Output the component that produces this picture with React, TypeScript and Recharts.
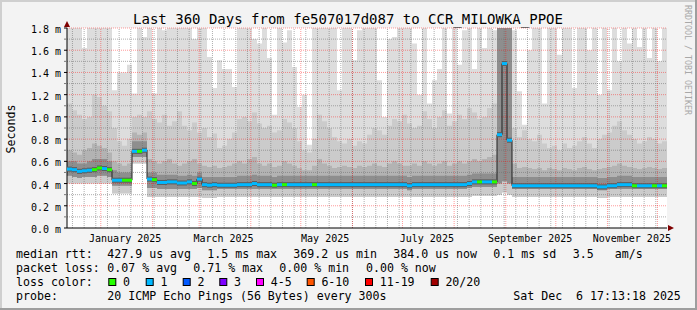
import React from 'react';
import {
  ComposedChart,
  Area,
  Line,
  XAxis,
  YAxis,
  ReferenceLine,
  ReferenceDot,
  CartesianGrid,
} from 'recharts';

// ---------- data (seconds are expressed in milliseconds, axis label "m") ----------
const STEP_DAYS = 3; // one value every 3 days, 120 steps over 360 days

const MEDIAN = [
  0.53, 0.525, 0.51, 0.515, 0.52, 0.525, 0.54, 0.535, 0.525, 0.43,
  0.43, 0.43, 0.43, 0.69, 0.69, 0.70, 0.44, 0.435, 0.41, 0.41,
  0.415, 0.415, 0.405, 0.405, 0.415, 0.40, 0.44, 0.39, 0.385, 0.39,
  0.385, 0.385, 0.385, 0.385, 0.39, 0.39, 0.39, 0.40, 0.39, 0.39,
  0.39, 0.385, 0.39, 0.39, 0.39, 0.39, 0.39, 0.39, 0.39, 0.39,
  0.39, 0.39, 0.39, 0.39, 0.39, 0.39, 0.39, 0.39, 0.39, 0.39,
  0.39, 0.39, 0.39, 0.39, 0.39, 0.39, 0.39, 0.39, 0.38, 0.39,
  0.39, 0.39, 0.39, 0.39, 0.39, 0.39, 0.39, 0.39, 0.39, 0.39,
  0.40, 0.415, 0.415, 0.415, 0.415, 0.415, 0.84, 1.48, 0.79, 0.38,
  0.38, 0.38, 0.38, 0.38, 0.38, 0.38, 0.38, 0.38, 0.38, 0.38,
  0.38, 0.38, 0.38, 0.38, 0.38, 0.38, 0.37, 0.37, 0.38, 0.38,
  0.39, 0.39, 0.39, 0.38, 0.38, 0.38, 0.38, 0.38, 0.38, 0.38,
];

const PING_MIN = [
  0.40, 0.40, 0.40, 0.40, 0.40, 0.40, 0.40, 0.40, 0.40, 0.31,
  0.31, 0.31, 0.31, 0.58, 0.58, 0.58, 0.28, 0.28, 0.28, 0.28,
  0.28, 0.28, 0.28, 0.28, 0.28, 0.28, 0.28, 0.27, 0.27, 0.27,
  0.28, 0.28, 0.28, 0.28, 0.28, 0.28, 0.28, 0.28, 0.28, 0.28,
  0.28, 0.28, 0.28, 0.28, 0.28, 0.28, 0.28, 0.28, 0.28, 0.28,
  0.28, 0.28, 0.28, 0.28, 0.28, 0.28, 0.28, 0.28, 0.28, 0.28,
  0.28, 0.28, 0.28, 0.28, 0.28, 0.28, 0.28, 0.28, 0.28, 0.28,
  0.28, 0.28, 0.28, 0.28, 0.28, 0.28, 0.28, 0.28, 0.28, 0.28,
  0.28, 0.29, 0.29, 0.29, 0.29, 0.29, 0.30, 0.32, 0.30, 0.28,
  0.28, 0.28, 0.28, 0.28, 0.28, 0.28, 0.28, 0.28, 0.28, 0.28,
  0.28, 0.28, 0.28, 0.28, 0.28, 0.28, 0.27, 0.27, 0.28, 0.28,
  0.28, 0.28, 0.28, 0.28, 0.28, 0.28, 0.28, 0.28, 0.28, 0.28,
];

const PING_LOW = [
  0.47, 0.46, 0.45, 0.46, 0.46, 0.46, 0.47, 0.47, 0.46, 0.38,
  0.38, 0.38, 0.38, 0.64, 0.64, 0.64, 0.36, 0.36, 0.35, 0.35,
  0.35, 0.35, 0.35, 0.35, 0.35, 0.35, 0.36, 0.34, 0.34, 0.34,
  0.35, 0.35, 0.35, 0.35, 0.35, 0.35, 0.35, 0.35, 0.35, 0.35,
  0.35, 0.35, 0.35, 0.35, 0.35, 0.35, 0.35, 0.35, 0.35, 0.35,
  0.35, 0.35, 0.35, 0.35, 0.35, 0.35, 0.35, 0.35, 0.35, 0.35,
  0.35, 0.35, 0.35, 0.35, 0.35, 0.35, 0.35, 0.35, 0.34, 0.35,
  0.35, 0.35, 0.35, 0.35, 0.35, 0.35, 0.35, 0.35, 0.35, 0.35,
  0.36, 0.37, 0.37, 0.37, 0.37, 0.37, 0.40, 0.42, 0.40, 0.35,
  0.35, 0.35, 0.35, 0.35, 0.35, 0.35, 0.35, 0.35, 0.35, 0.35,
  0.35, 0.35, 0.35, 0.35, 0.35, 0.35, 0.34, 0.34, 0.35, 0.35,
  0.35, 0.35, 0.35, 0.35, 0.35, 0.35, 0.35, 0.35, 0.35, 0.35,
];

const PING_HIGH = [
  0.60, 0.60, 0.58, 0.58, 0.60, 0.62, 0.62, 0.62, 0.60, 0.52,
  0.50, 0.50, 0.50, 0.78, 0.78, 0.78, 0.50, 0.50, 0.48, 0.48,
  0.48, 0.48, 0.47, 0.47, 0.48, 0.47, 0.50, 0.46, 0.46, 0.46,
  0.46, 0.46, 0.46, 0.46, 0.47, 0.47, 0.47, 0.48, 0.47, 0.47,
  0.47, 0.46, 0.47, 0.47, 0.47, 0.47, 0.47, 0.47, 0.47, 0.47,
  0.47, 0.47, 0.47, 0.47, 0.47, 0.47, 0.47, 0.47, 0.47, 0.47,
  0.47, 0.47, 0.47, 0.47, 0.47, 0.47, 0.47, 0.47, 0.46, 0.47,
  0.47, 0.47, 0.47, 0.47, 0.47, 0.47, 0.47, 0.47, 0.47, 0.47,
  0.48, 0.49, 0.49, 0.49, 0.49, 0.49, 2.0, 2.0, 2.0, 0.46,
  0.46, 0.46, 0.46, 0.46, 0.46, 0.46, 0.46, 0.46, 0.46, 0.46,
  0.46, 0.46, 0.46, 0.46, 0.46, 0.46, 0.45, 0.45, 0.46, 0.46,
  0.47, 0.47, 0.47, 0.46, 0.46, 0.46, 0.46, 0.46, 0.46, 0.46,
];

const PING_MID = [
  0.70, 0.68, 0.66, 0.70, 0.72, 0.76, 0.74, 0.72, 0.68, 0.60,
  0.58, 0.56, 0.58, 0.86, 0.84, 0.86, 0.62, 0.60, 0.58, 0.60,
  0.62, 0.58, 0.56, 0.58, 0.60, 0.62, 0.58, 0.56, 0.55, 0.56,
  0.54, 0.55, 0.56, 0.58, 0.60, 0.58, 0.62, 0.64, 0.58, 0.56,
  0.58, 0.55, 0.56, 0.60, 0.58, 0.56, 0.54, 0.52, 0.52, 0.56,
  0.62, 0.58, 0.56, 0.54, 0.55, 0.56, 0.55, 0.54, 0.56, 0.55,
  0.56, 0.58, 0.56, 0.55, 0.58, 0.60, 0.58, 0.56, 0.56, 0.58,
  0.56, 0.60, 0.58, 0.56, 0.58, 0.60, 0.56, 0.58, 0.60, 0.58,
  0.60, 0.62, 0.60, 0.62, 0.64, 0.66, 2.0, 2.0, 2.0, 0.58,
  0.54, 0.55, 0.54, 0.53, 0.54, 0.52, 0.54, 0.53, 0.52, 0.54,
  0.53, 0.52, 0.54, 0.55, 0.53, 0.52, 0.53, 0.54, 0.55, 0.56,
  0.58, 0.56, 0.55, 0.54, 0.53, 0.54, 0.55, 0.54, 0.53, 0.54,
];

const PING_UPPER = [
  1.12, 1.06, 1.02, 0.98, 1.00, 1.20, 1.18, 1.10, 1.05, 0.90,
  0.78, 0.74, 0.80, 1.00, 1.02, 1.00, 1.05, 0.98, 0.95, 1.02,
  0.92, 0.96, 1.05, 0.92, 0.88, 0.95, 0.86, 0.90, 0.82, 0.85,
  0.72, 0.74, 0.80, 0.86, 0.98, 1.00, 0.96, 1.04, 0.94, 0.90,
  0.92, 0.86, 0.88, 0.98, 0.95, 0.90, 0.78, 0.70, 0.68, 0.80,
  1.02, 0.96, 0.90, 0.82, 0.78, 0.76, 0.80, 0.74, 0.78, 0.76,
  0.84, 0.90, 0.88, 0.84, 0.92, 0.98, 0.96, 1.02, 0.94, 0.90,
  0.92, 1.05, 0.98, 0.90, 1.00, 1.06, 0.92, 0.96, 1.02, 0.98,
  1.08, 1.04, 0.98, 1.00, 1.08, 1.12, 2.0, 2.0, 2.0, 0.90,
  0.82, 0.88, 0.80, 0.78, 0.84, 0.76, 0.72, 0.74, 0.70, 0.76,
  0.72, 0.74, 0.78, 0.82, 0.76, 0.72, 0.80, 0.84, 0.86, 0.92,
  0.96, 0.88, 0.84, 0.80, 0.76, 0.78, 0.82, 0.80, 0.76, 0.78,
];

const PING_MAX = [
  2.0, 2.0, 2.0, 1.62, 2.0, 2.0, 2.0, 2.0, 2.0, 1.24,
  1.40, 1.40, 1.47, 1.21, 2.0, 1.72, 2.0, 1.21, 2.0, 1.78,
  2.0, 2.0, 2.0, 2.0, 2.0, 1.70, 2.0, 2.0, 1.54, 1.26,
  1.51, 1.43, 1.43, 1.27, 2.0, 2.0, 2.0, 1.70, 1.66, 2.0,
  1.53, 1.02, 2.0, 1.67, 1.78, 1.45, 1.09, 1.20, 0.75, 2.0,
  2.0, 2.0, 2.0, 2.0, 1.24, 2.0, 2.0, 1.51, 1.78, 2.0,
  2.0, 2.0, 1.33, 1.00, 1.70, 1.72, 2.0, 2.0, 2.0, 1.66,
  1.20, 2.0, 1.12, 1.33, 1.43, 2.0, 1.03, 2.0, 1.47, 1.78,
  2.0, 1.43, 2.0, 1.62, 2.0, 1.78, 2.0, 2.0, 2.0, 1.78,
  1.23, 0.93, 1.60, 2.0, 2.0, 1.12, 2.0, 2.0, 1.56, 2.0,
  2.0, 1.26, 2.0, 2.0, 1.60, 2.0, 1.20, 2.0, 1.24, 2.0,
  1.50, 2.0, 1.66, 2.0, 1.63, 2.0, 1.53, 2.0, 1.50, 1.80,
];

// steps whose median is drawn with the "0 lost" colour
const ZERO_LOSS_STEPS = [5, 6, 8, 11, 12, 14, 17, 25, 41, 43, 49, 82, 85, 113, 117, 119];

// ---------- axes ----------
const Y_TICKS = [0, 0.1, 0.2, 0.3, 0.4, 0.5, 0.6, 0.7, 0.8, 0.9, 1.0, 1.1, 1.2, 1.3, 1.4, 1.5, 1.6, 1.7, 1.8];
const MONTH_START_DAYS = [20.28, 51.28, 79.28, 110.28, 140.28, 171.28, 201.28, 232.28, 263.28, 293.28, 324.28, 354.28];
const WEEK_START_DAYS = Array.from({ length: 51 }, (_, k) => 3.28 + 7 * k);
const X_LABEL_DAYS = [34.9, 93.9, 154.9, 215.9, 277.9, 338.9];
const X_LABELS = ['January 2025', 'March 2025', 'May 2025', 'July 2025', 'September 2025', 'November 2025'];

const LOSS_LEGEND = [
  { label: '0', color: '#26ff00' },
  { label: '1', color: '#00b8ff' },
  { label: '2', color: '#0059ff' },
  { label: '3', color: '#7e00ff' },
  { label: '4-5', color: '#ff00ff' },
  { label: '6-10', color: '#ff5500' },
  { label: '11-19', color: '#ff0000' },
  { label: '20/20', color: '#a10000' },
];

// ---------- layout ----------
const W = 697;
const H = 310;
const PLOT_LEFT = 67;
const PLOT_W = 600;
const PLOT_TOP = 28;
const PLOT_H = 200;
const MONO = '"DejaVu Sans Mono", "Liberation Mono", monospace';

const N = MEDIAN.length;
const rows: any[] = MEDIAN.map((m, i) => ({
  day: i * STEP_DAYS,
  med: m,
  loss: ZERO_LOSS_STEPS.includes(i) ? 0 : 1,
  b0: [PING_MIN[i], PING_MAX[i]],
  b1: [PING_MIN[i], PING_UPPER[i]],
  b2: [PING_LOW[i], PING_MID[i]],
  b3: [PING_LOW[i], PING_HIGH[i]],
}));
rows.push({ ...rows[N - 1], day: N * STEP_DAYS, last: true });

const MedianDot = (props: any) => {
  const { cx, cy, payload } = props;
  if (payload == null || payload.last || cx == null || cy == null) return null;
  const w = PLOT_W / N;
  const color = payload.loss === 0 ? '#26ff00' : '#00b8ff';
  return (
    <g>
      <rect x={cx} y={cy - 2.5} width={w} height={5} fill="#5c5c5c" />
      <rect x={cx} y={cy - 1.5} width={w} height={3} fill={color} />
    </g>
  );
};

const YTick = (props: any) => {
  const { x, y, payload } = props;
  const v = payload.value;
  const major = Math.round(v * 10) % 2 === 0;
  return (
    <g>
      <line x1={x - 3} x2={x} y1={y} y2={y} stroke={major ? '#000' : '#777'} strokeWidth={1} />
      {major && (
        <text x={x - 6} y={y + 5} textAnchor="end" fontFamily={MONO} fontSize={10} fill="#000">
          {v.toFixed(1) + ' m'}
        </text>
      )}
    </g>
  );
};

const XTick = (props: any) => {
  const { x, y, index } = props;
  return (
    <text x={x} y={y + 14} textAnchor="middle" fontFamily={MONO} fontSize={10} fill="#000">
      {X_LABELS[index]}
    </text>
  );
};

const XArrow = (p: any) => (
  <path d={`M${p.cx + 1},${p.cy - 3} L${p.cx + 7},${p.cy} L${p.cx + 1},${p.cy + 3} Z`} fill="#7f0000" />
);
const YArrow = (p: any) => (
  <path d={`M${p.cx - 3},${p.cy - 1} L${p.cx},${p.cy - 7} L${p.cx + 3},${p.cy - 1} Z`} fill="#7f0000" />
);

const minorGrid = 'rgba(110,110,110,0.55)';
const majorGrid = 'rgba(255,0,0,0.4)';

const txt = { fontFamily: MONO, fontSize: 11.6, fill: '#000', whiteSpace: 'pre' } as any;

export default function App() {
  return (
    <div style={{ position: 'absolute', left: 0, top: 0, width: W, height: H, background: '#f3f3f3' }}>
      <ComposedChart
        width={W}
        height={H}
        data={rows}
        margin={{ top: PLOT_TOP, right: W - PLOT_LEFT - PLOT_W, bottom: H - PLOT_TOP - PLOT_H - 30, left: 7 }}
      >
        <CartesianGrid horizontal={false} vertical={false} fill="#ffffff" />
        <XAxis
          type="number"
          dataKey="day"
          domain={[0, 360]}
          allowDataOverflow
          ticks={X_LABEL_DAYS}
          interval={0}
          tick={<XTick />}
          tickLine={false}
          tickSize={0}
          tickMargin={0}
          height={30}
          axisLine={{ stroke: '#000' }}
        />
        <YAxis
          type="number"
          domain={[0, 1.8]}
          allowDataOverflow
          ticks={Y_TICKS}
          interval={0}
          tick={<YTick />}
          tickLine={false}
          tickSize={0}
          tickMargin={0}
          width={60}
          axisLine={{ stroke: '#000' }}
        />
        <Area dataKey="b0" type="stepAfter" stroke="none" fill="#dddddd" fillOpacity={1} isAnimationActive={false} dot={false} activeDot={false} />
        <Area dataKey="b1" type="stepAfter" stroke="none" fill="#cbcbcb" fillOpacity={1} isAnimationActive={false} dot={false} activeDot={false} />
        <Area dataKey="b2" type="stepAfter" stroke="none" fill="#b3b3b3" fillOpacity={1} isAnimationActive={false} dot={false} activeDot={false} />
        <Area dataKey="b3" type="stepAfter" stroke="none" fill="#8e8e8e" fillOpacity={1} isAnimationActive={false} dot={false} activeDot={false} />
        {WEEK_START_DAYS.map((d) => (
          <ReferenceLine key={'w' + d} x={d} stroke={minorGrid} strokeDasharray="1 1" />
        ))}
        {Y_TICKS.filter((v) => v > 0 && Math.round(v * 10) % 2 === 1).map((v) => (
          <ReferenceLine key={'hy' + v} y={v} stroke={minorGrid} strokeDasharray="1 1" />
        ))}
        {MONTH_START_DAYS.map((d) => (
          <ReferenceLine key={'m' + d} x={d} stroke={majorGrid} strokeDasharray="1 1" />
        ))}
        {Y_TICKS.filter((v) => v > 0 && Math.round(v * 10) % 2 === 0).map((v) => (
          <ReferenceLine key={'my' + v} y={v} stroke={majorGrid} strokeDasharray="1 1" />
        ))}
        <Line
          dataKey="med"
          type="stepAfter"
          stroke="#202020"
          strokeWidth={1}
          dot={<MedianDot />}
          activeDot={false}
          isAnimationActive={false}
        />
        <ReferenceDot x={360} y={0} r={0} ifOverflow="visible" shape={<XArrow />} />
        <ReferenceDot x={0} y={1.8} r={0} ifOverflow="visible" shape={<YArrow />} />
      </ComposedChart>

      <svg
        width={W}
        height={H}
        style={{ position: 'absolute', left: 0, top: 0, pointerEvents: 'none' }}
      >
        <text x={348} y={24} textAnchor="middle" fontFamily={MONO} fontSize={14} fill="#000">
          Last 360 Days from fe507017d087 to CCR_MILOWKA_PPOE
        </text>
        <text transform="translate(15,129) rotate(-90)" textAnchor="middle" fontFamily={MONO} fontSize={11.6} fill="#000">
          Seconds
        </text>
        <text transform="translate(685,5) rotate(90)" fontFamily={MONO} fontSize={8.3} fill="#a8a8a8">
          RRDTOOL / TOBI OETIKER
        </text>

        <text x={16} y={258} style={txt}>median rtt:</text>
        <text x={107.3} y={258} style={txt}>427.9 us avg</text>
        <text x={207.3} y={258} style={txt}>1.5 ms max</text>
        <text x={293.3} y={258} style={txt}>369.2 us min</text>
        <text x={393.3} y={258} style={txt}>384.0 us now</text>
        <text x={493.3} y={258} style={txt}>0.1 ms sd</text>
        <text x={572.7} y={258} style={txt}>3.5</text>
        <text x={614.7} y={258} style={txt}>am/s</text>

        <text x={16} y={272} style={txt}>packet loss:</text>
        <text x={107.3} y={272} style={txt}>0.07 % avg</text>
        <text x={193.3} y={272} style={txt}>0.71 % max</text>
        <text x={279.3} y={272} style={txt}>0.00 % min</text>
        <text x={366} y={272} style={txt}>0.00 % now</text>

        <text x={16} y={286} style={txt}>loss color:</text>
        {LOSS_LEGEND.map((l, k) => {
          const sx = [108.3, 145.7, 182.7, 219.3, 256, 306.7, 365, 430.7][k];
          return (
            <g key={l.label}>
              <rect x={sx + 0.5} y={278.5} width={7} height={7} fill={l.color} stroke="#000" strokeWidth={1} />
              <text x={sx + 14.7} y={286} style={txt}>{l.label}</text>
            </g>
          );
        })}

        <text x={16} y={300} style={txt}>probe:</text>
        <text x={107.3} y={300} style={txt}>20 ICMP Echo Pings (56 Bytes) every 300s</text>
        <text x={513.3} y={300} style={txt}>{'Sat Dec  6 17:13:18 2025'}</text>
      </svg>

      <div style={{ position: 'absolute', left: 0, top: 0, width: W, height: 2, background: '#cfcfcf' }} />
      <div style={{ position: 'absolute', left: 0, top: 0, width: 2, height: H, background: '#cfcfcf' }} />
      <div style={{ position: 'absolute', left: 0, top: H - 2, width: W, height: 2, background: '#9e9e9e' }} />
      <div style={{ position: 'absolute', left: W - 2, top: 0, width: 2, height: H, background: '#9e9e9e' }} />
    </div>
  );
}
